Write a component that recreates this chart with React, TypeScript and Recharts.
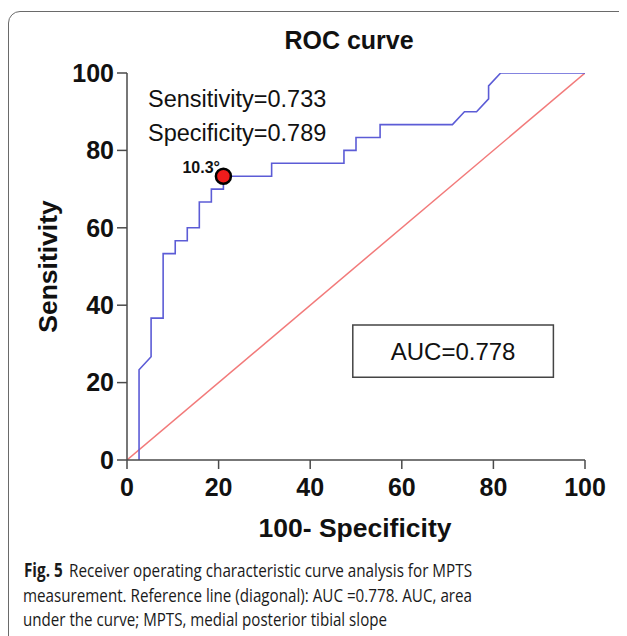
import { ComposedChart, Line, XAxis, YAxis, ReferenceDot, ReferenceArea } from 'recharts'

const FONT = '"Liberation Sans", Arial, sans-serif'

const X_TICKS = [0, 20, 40, 60, 80, 100]
const Y_TICKS = [0, 20, 40, 60, 80, 100]

// ROC curve: 100 - specificity (x) vs sensitivity (y), both in %
const ROC_X = [2.63, 2.63, 5.26, 5.26, 7.89, 7.89, 10.53, 10.53, 13.16, 13.16, 15.79, 15.79, 18.42, 18.42, 21.05, 21.05, 31.58, 31.58, 47.37, 47.37, 50, 50, 55.26, 55.26, 71.05, 73.68, 76.32, 78.95, 78.95, 81.58, 100]
const ROC_Y = [0, 23.33, 26.67, 36.67, 36.67, 53.33, 53.33, 56.67, 56.67, 60, 60, 66.67, 66.67, 70, 70, 73.33, 73.33, 76.67, 76.67, 80, 80, 83.33, 83.33, 86.67, 86.67, 90, 90, 93.33, 96.67, 100, 100]

// reference diagonal
const DIAG_X = [0, 100]
const DIAG_Y = [0, 100]

// optimal cut-off
const CUTOFF = { x: 21.05, y: 73.33, label: '10.3°' }

const STATS = ['Sensitivity=0.733', 'Specificity=0.789']
const AUC_TEXT = 'AUC=0.778'

const rocData = ROC_X.map((x, i) => ({ x, y: ROC_Y[i] }))
const diagData = DIAG_X.map((x, i) => ({ x, y: DIAG_Y[i] }))

const AXIS = '#4a4a4a'

export default function App() {
  return (
    <div style={{ position: 'relative', width: 627, height: 636, marginLeft: -8, marginTop: -8, overflow: 'hidden', background: '#fff' }}>
      {/* figure frame */}
      <div style={{ position: 'absolute', left: 8, top: 11, width: 700, height: 700, border: '1.5px solid #6a6a6a', borderRadius: 12 }} />

      <div style={{ position: 'absolute', left: 0, top: 0 }}>
        <ComposedChart width={627} height={560} margin={{ top: 73, right: 42, bottom: 40, left: 67 }} style={{ fontFamily: FONT }}>
          <XAxis
            type="number"
            dataKey="x"
            domain={[0, 100]}
            ticks={X_TICKS}
            height={60}
            tickSize={9}
            tickMargin={9}
            stroke={AXIS}
            strokeWidth={1.5}
            tick={{ fontSize: 25, fontWeight: 700, fill: '#111' }}
            allowDataOverflow
          />
          {/* box edges: top and right */}
          <XAxis xAxisId="top" orientation="top" type="number" domain={[0, 100]} height={0} tick={false} tickLine={false} stroke={AXIS} strokeWidth={1.5} />
          <YAxis
            type="number"
            dataKey="y"
            domain={[0, 100]}
            ticks={Y_TICKS}
            width={60}
            tickSize={10}
            tickMargin={3}
            stroke={AXIS}
            strokeWidth={1.5}
            tick={{ fontSize: 25, fontWeight: 700, fill: '#111' }}
            allowDataOverflow
          />
          <YAxis yAxisId="right" orientation="right" type="number" domain={[0, 100]} width={0} tick={false} tickLine={false} stroke={AXIS} strokeWidth={1.5} />
          <ReferenceArea
            x1={49.3}
            x2={93.1}
            y1={21.4}
            y2={34.9}
            fill="#fff"
            fillOpacity={1}
            stroke="#444"
            strokeWidth={1.5}
            label={{ value: AUC_TEXT, position: 'center', fontSize: 24, fill: '#111' }}
          />
          <Line data={diagData} dataKey="y" type="linear" stroke="#f27a7a" strokeWidth={1.5} dot={false} isAnimationActive={false} />
          <Line data={rocData} dataKey="y" type="linear" stroke="#5c5cd6" strokeWidth={1.6} dot={false} isAnimationActive={false} />
          <ReferenceDot x={CUTOFF.x} y={CUTOFF.y} r={7.5} fill="#ee1c1c" stroke="#000" strokeWidth={2.5} />
        </ComposedChart>
      </div>

      {/* titles, annotations and caption */}
      <svg width={627} height={636} style={{ position: 'absolute', left: 0, top: 0, pointerEvents: 'none', fontFamily: FONT }}>
        <text x={349} y={49} textAnchor="middle" fontSize={25} fontWeight={700} fill="#111">ROC curve</text>
        <text x={148} y={107} fontSize={23.5} fill="#111">{STATS[0]}</text>
        <text x={148} y={141} fontSize={23.5} fill="#111">{STATS[1]}</text>
        <text x={220} y={173} textAnchor="end" fontSize={16} fontWeight={700} fill="#111">{CUTOFF.label}</text>
        <text transform="translate(57,266.5) rotate(-90)" textAnchor="middle" fontSize={26.5} fontWeight={700} fill="#111">Sensitivity</text>
        <text x={355} y={537} textAnchor="middle" fontSize={26.5} fontWeight={700} fill="#111">100- Specificity</text>

        <g fontFamily='"Open Sans", "Noto Sans", sans-serif' fontSize={19} fill="#1a1a1a">
          <text x={24} y={577} textLength={448} lengthAdjust="spacingAndGlyphs">
            <tspan fontWeight={700}>Fig. 5</tspan>
            <tspan dx={8}>Receiver operating characteristic curve analysis for MPTS</tspan>
          </text>
          <text x={23} y={602} textLength={449} lengthAdjust="spacingAndGlyphs">
            measurement. Reference line (diagonal): AUC =0.778. AUC, area
          </text>
          <text x={23} y={626} textLength={364} lengthAdjust="spacingAndGlyphs">
            under the curve; MPTS, medial posterior tibial slope
          </text>
        </g>
      </svg>
    </div>
  )
}
